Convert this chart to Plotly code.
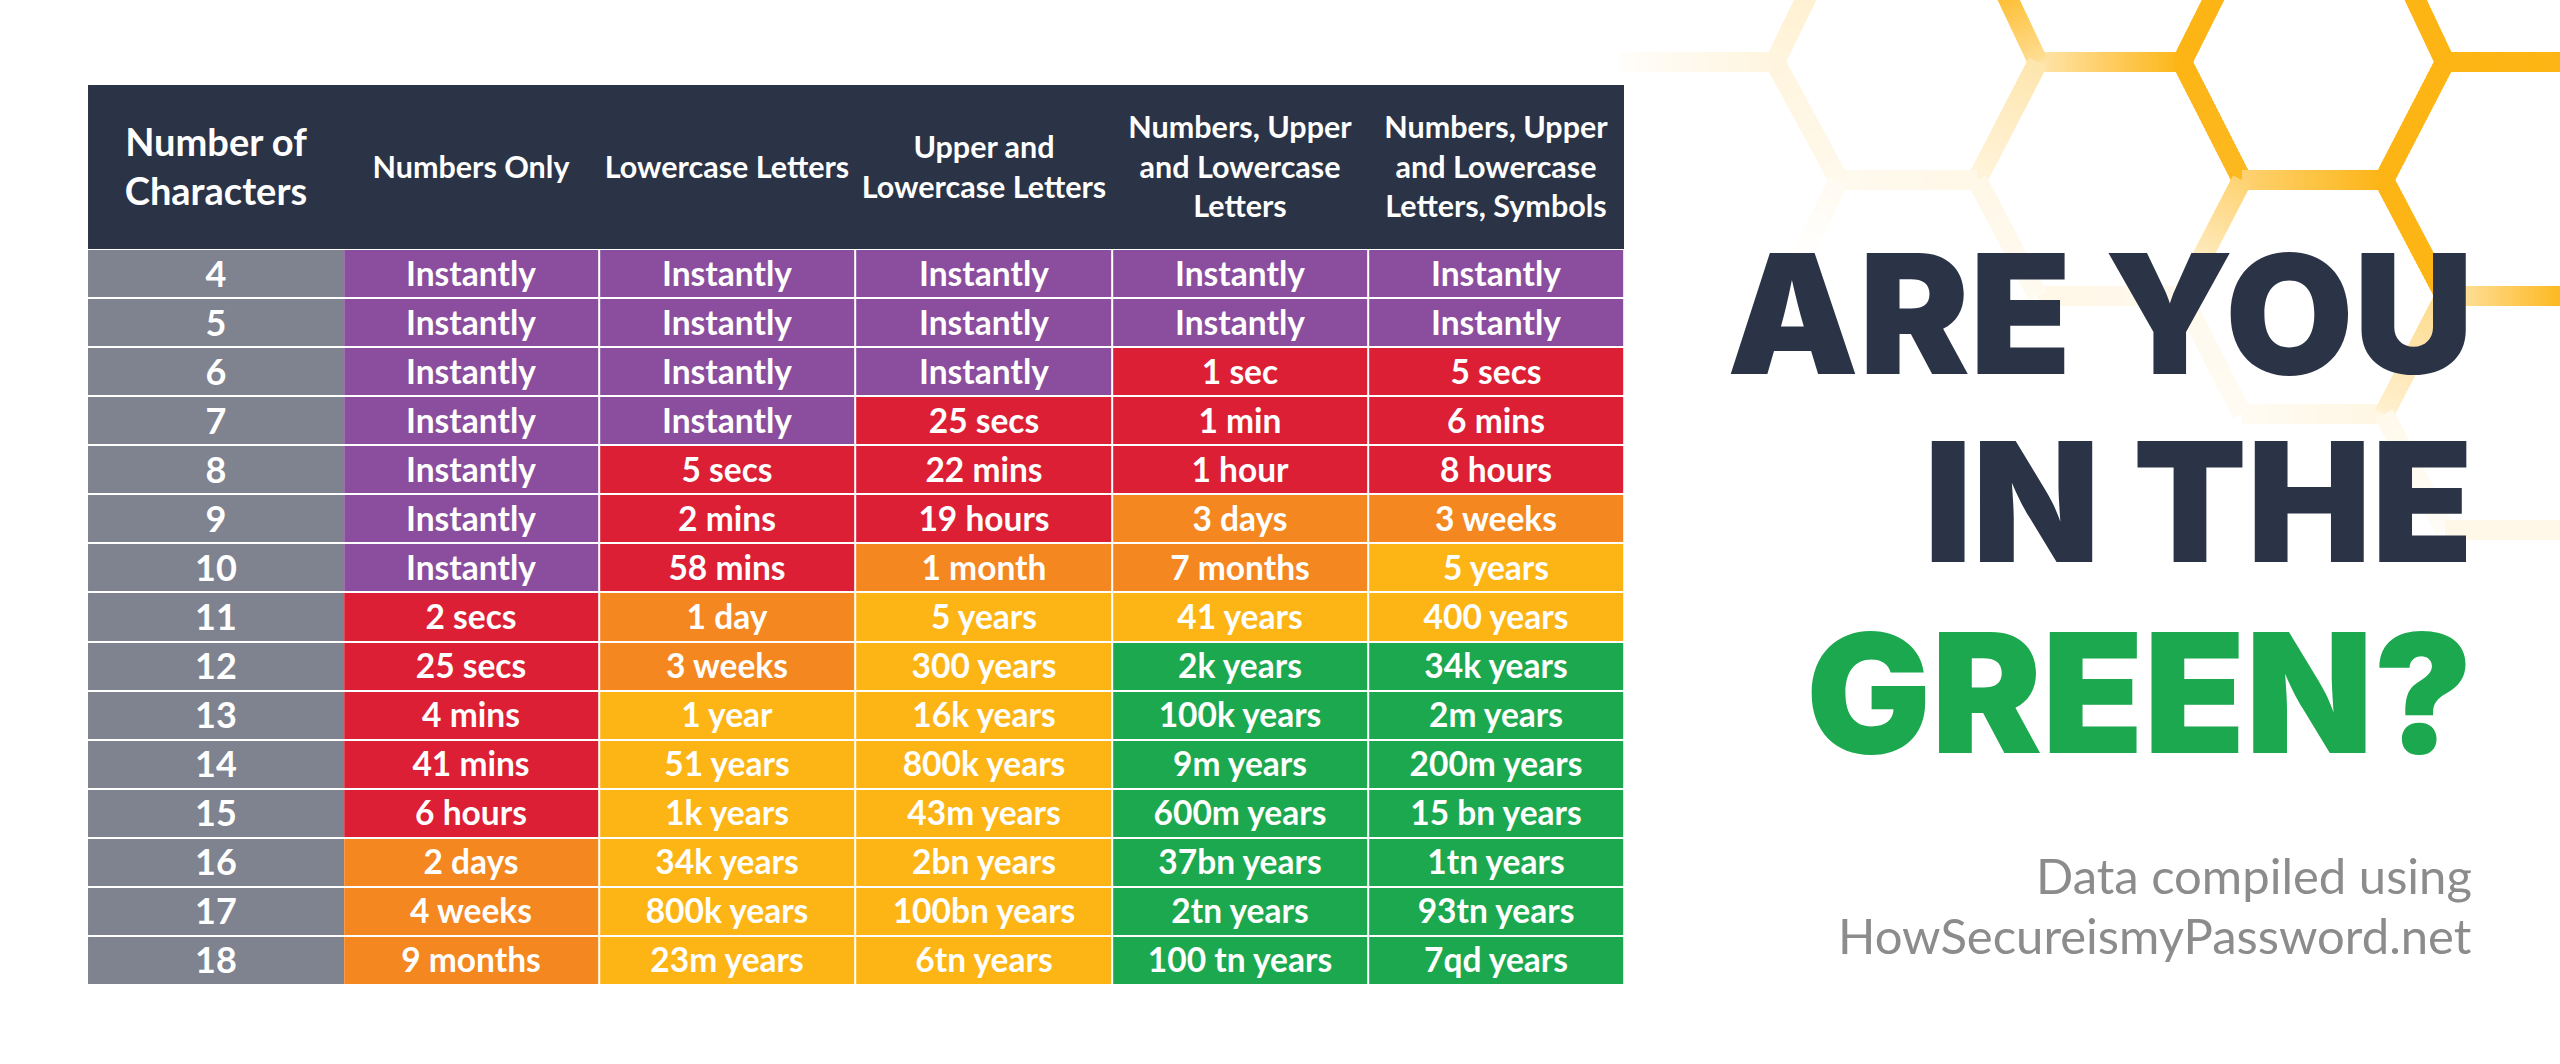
import plotly.graph_objects as go

# ---------- data ----------
char_counts = list(range(4, 19))
header_first = "Number of<br>Characters"
headers = [
    "Numbers Only",
    "Lowercase Letters",
    "Upper and<br>Lowercase Letters",
    "Numbers, Upper<br>and Lowercase<br>Letters",
    "Numbers, Upper<br>and Lowercase<br>Letters, Symbols",
]
numbers_only = ["Instantly"] * 7 + ["2 secs", "25 secs", "4 mins", "41 mins", "6 hours", "2 days", "4 weeks", "9 months"]
lowercase = ["Instantly"] * 4 + ["5 secs", "2 mins", "58 mins", "1 day", "3 weeks", "1 year", "51 years", "1k years", "34k years", "800k years", "23m years"]
upper_lower = ["Instantly"] * 3 + ["25 secs", "22 mins", "19 hours", "1 month", "5 years", "300 years", "16k years", "800k years", "43m years", "2bn years", "100bn years", "6tn years"]
num_upper_lower = ["Instantly"] * 2 + ["1 sec", "1 min", "1 hour", "3 days", "7 months", "41 years", "2k years", "100k years", "9m years", "600m years", "37bn years", "2tn years", "100 tn years"]
all_chars = ["Instantly"] * 2 + ["5 secs", "6 mins", "8 hours", "3 weeks", "5 years", "400 years", "34k years", "2m years", "200m years", "15 bn years", "1tn years", "93tn years", "7qd years"]

# strength tier per cell: 0 purple, 1 red, 2 orange, 3 yellow, 4 green
tier_numbers = [0]*7 + [1]*5 + [2]*3
tier_lower = [0]*4 + [1]*3 + [2]*2 + [3]*6
tier_upper = [0]*3 + [1]*3 + [2]*1 + [3]*8
tier_num_upper = [0]*2 + [1]*3 + [2]*2 + [3]*1 + [4]*7
tier_all = [0]*2 + [1]*3 + [2]*1 + [3]*2 + [4]*7

columns = [numbers_only, lowercase, upper_lower, num_upper_lower, all_chars]
tiers = [tier_numbers, tier_lower, tier_upper, tier_num_upper, tier_all]

# ---------- style ----------
W, H = 2560, 1064
DARK = "#2B3447"
GREY = "#7F8390"
WHITE = "#FFFFFF"
TIER_COLORS = ["#8B4D9E", "#DC1F35", "#F58720", "#FDB515", "#1CA84E"]
FONT = "Lato"
HEAD_TOP, HEAD_BOTTOM, TABLE_BOTTOM = 85, 249, 985
LEFT, RIGHT = 87, 1624
FIRST_EDGE = -0.496

def fx(x): return x / W
def fy(y): return 1 - y / H

row_h = (TABLE_BOTTOM - HEAD_BOTTOM) / len(char_counts)
y_top_value = 3.5 - (HEAD_BOTTOM - HEAD_TOP) / row_h

fig = go.Figure()

# header band
fig.add_trace(go.Heatmap(
    x=[FIRST_EDGE, 0.505], y=[y_top_value, 3.5], z=[[0]],
    colorscale=[[0, DARK], [1, DARK]], showscale=False, hoverinfo="skip",
    text=[[header_first]], texttemplate="%{text}",
    textfont=dict(family=FONT, size=38, color=WHITE, weight=700),
))
fig.add_trace(go.Heatmap(
    x=[0.5, 1.5, 2.5, 3.5, 4.5, 5.5], y=[y_top_value, 3.5], z=[[0]*5],
    colorscale=[[0, DARK], [1, DARK]], showscale=False, hoverinfo="skip",
    text=[headers], texttemplate="%{text}",
    textfont=dict(family=FONT, size=30.5, color=WHITE, weight=700),
))
# character-count column
fig.add_trace(go.Heatmap(
    x=[FIRST_EDGE, 0.505], y=char_counts, z=[[0] for _ in char_counts], ygap=2,
    colorscale=[[0, GREY], [1, GREY]], showscale=False, hoverinfo="skip",
    text=[[str(c)] for c in char_counts], texttemplate="%{text}",
    textfont=dict(family=FONT, size=36, color=WHITE, weight=700),
))
# body
n = len(TIER_COLORS) - 1
scale = []
for i, c in enumerate(TIER_COLORS):
    scale += [[i / (n + 1), c], [(i + 1) / (n + 1), c]]
fig.add_trace(go.Heatmap(
    x=[1, 2, 3, 4, 5], y=char_counts,
    z=[[t[r] for t in tiers] for r in range(len(char_counts))],
    zmin=-0.5, zmax=4.5, colorscale=scale, showscale=False, hoverinfo="skip",
    xgap=2, ygap=2,
    text=[[c[r] for c in columns] for r in range(len(char_counts))],
    texttemplate="%{text}",
    textfont=dict(family=FONT, size=33.5, color=WHITE, weight=700),
))

# ---------- honeycomb decoration (x0, y0, alpha0, x1, y1, alpha1) ----------
HONEY = (253, 181, 21)
edges = [
    (2038, 62, .35, 2182, 62, 1), (2182, 62, 1, 2218, -10, 1), (2038, 62, .45, 2004, -10, .9),
    (2182, 62, 1, 2242, 180, .95), (2242, 180, .6, 2384, 180, 1), (2384, 180, 1, 2445, 62, 1),
    (2445, 62, 1, 2411, -10, 1), (2445, 62, 1, 2570, 62, 1),
    (2384, 180, 1, 2445, 296, 1), (2445, 296, .35, 2570, 296, 1),
    (2242, 180, .6, 2182, 296, .12), (2182, 296, .08, 2038, 296, .1),
    (2182, 296, .08, 2242, 414, .05), (2242, 414, .05, 2384, 414, .12),
    (2384, 414, .2, 2445, 296, .5), (2384, 414, .08, 2445, 530, .04), (2445, 530, .1, 2570, 530, .1),
    (2038, 62, .35, 1977, 180, .15), (1977, 180, .1, 1839, 180, .07), (1839, 180, .08, 1775, 62, .14),
    (1775, 62, .14, 1620, 62, .02), (1775, 62, .14, 1810, -10, .2),
    (1977, 180, .1, 2038, 296, .06), (1839, 180, .06, 1800, 260, 0),
]
def blend(a):
    return "rgb(%d,%d,%d)" % tuple(round(255 + (c - 255) * a) for c in HONEY)
shapes = []
STEPS = 30
for x0, y0, a0, x1, y1, a1 in edges:
    for s in range(STEPS):
        t0, t1 = s / STEPS, (s + 1) / STEPS
        overlap = 0.6 / STEPS
        shapes.append(dict(
            type="line", xref="paper", yref="paper", layer="below",
            x0=fx(x0 + (x1 - x0) * t0), y0=fy(y0 + (y1 - y0) * t0),
            x1=fx(x0 + (x1 - x0) * min(1, t1 + overlap)), y1=fy(y0 + (y1 - y0) * min(1, t1 + overlap)),
            line=dict(color=blend(a0 + (a1 - a0) * (t0 + t1) / 2), width=20),
        ))

# ---------- headline text ----------
def label(text, right, base, size, color, weight, font=FONT):
    return dict(text=text, xref="paper", yref="paper", x=fx(right), y=fy(base),
                xanchor="right", yanchor="bottom", showarrow=False, align="right",
                font=dict(family=font, size=size, color=color, weight=weight))

BIG = "Inter"
annotations = [
    label("ARE YOU", 2475, 416, 166, DARK, 900, BIG),
    label("IN THE", 2475, 604, 166, DARK, 900, BIG),
    label("GREEN?", 2475, 795, 166, "#1CA84E", 900, BIG),
    label("Data compiled using", 2474, 906, 49, "#8C8C8C", 400),
    label("HowSecureismyPassword.net", 2474, 966, 49, "#8C8C8C", 400),
]

fig.update_layout(
    width=W, height=H, margin=dict(l=0, r=0, t=0, b=0),
    paper_bgcolor=WHITE, plot_bgcolor="rgba(0,0,0,0)",
    xaxis=dict(range=[-0.5, 5.5], domain=[fx(LEFT), fx(RIGHT)], visible=False, fixedrange=True),
    yaxis=dict(range=[18.5, y_top_value], domain=[fy(TABLE_BOTTOM), fy(HEAD_TOP)], visible=False, fixedrange=True),
    shapes=shapes, annotations=annotations, showlegend=False,
)
fig.write_html("out.html", config=dict(displayModeBar=False), post_script="document.body.style.margin='0';")
